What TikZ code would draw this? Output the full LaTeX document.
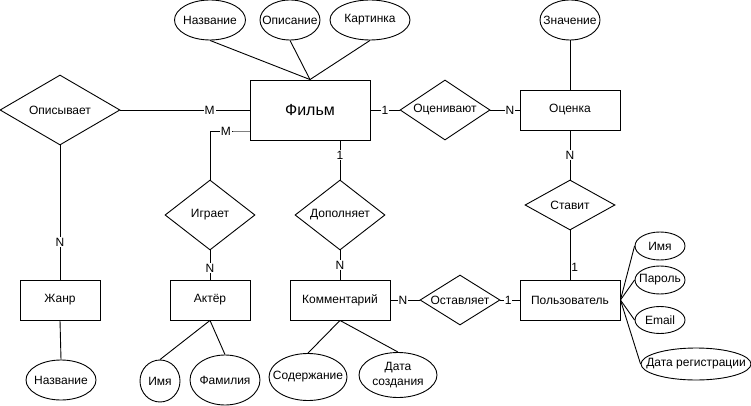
\documentclass[tikz,border=0pt]{standalone}
\usepackage{fontspec}
\setmainfont{Liberation Sans}
\usetikzlibrary{shapes.geometric}
\newcommand{\fs}{\fontsize{12}{14.4}\selectfont}
\newcommand{\zb}[1]{\makebox[0pt]{#1}}
\tikzset{
  ent/.style={draw, rectangle, inner sep=0pt, font=\fs, line width=0.9pt},
  attr/.style={draw, ellipse, inner sep=0pt, font=\fs, line width=0.9pt},
  rel/.style={draw, diamond, inner sep=0pt, font=\fs, line width=0.9pt},
  lbl/.style={fill=white, inner sep=1pt, font=\fs},
  conn/.style={line width=0.9pt},
}
\begin{document}
\begin{tikzpicture}[x=1pt,y=-1pt]
\useasboundingbox (0,0) rectangle (751,406);
% entities
\node[ent, minimum width=120pt, minimum height=60pt, font=\fontsize{16}{19}\selectfont] (film) at (310,110) {Фильм};
\node[ent, minimum width=100pt, minimum height=40pt] (ocen) at (570,110) {Оценка};
\node[ent, minimum width=80pt, minimum height=40pt] (zhanr) at (60,300) {Жанр};
\node[ent, minimum width=80pt, minimum height=40pt] (aktor) at (210,300) {Актёр};
\node[ent, minimum width=100pt, minimum height=40pt] (komm) at (340,300) {Комментарий};
\node[ent, minimum width=100pt, minimum height=40pt] (polz) at (570,300) {Пользователь};
% relations
\node[rel, minimum width=120pt, minimum height=70pt] (opis) at (60,110) {\zb{Описывает}};
\node[rel, minimum width=90pt, minimum height=60pt] (ocenv) at (445,110) {\zb{Оценивают}};
\node[rel, minimum width=90pt, minimum height=70pt] (igraet) at (210,215) {\zb{Играет}};
\node[rel, minimum width=90pt, minimum height=70pt] (dopoln) at (340,215) {\zb{Дополняет}};
\node[rel, minimum width=80pt, minimum height=50pt] (ostav) at (460,300) {\zb{Оставляет}};
\node[rel, minimum width=90pt, minimum height=50pt] (stavit) at (570,205) {\zb{Ставит}};
% attributes
\node[attr, minimum width=71pt, minimum height=40pt] (fnazv) at (210,20) {\zb{Название}};
\node[attr, minimum width=60pt, minimum height=40pt] (fopis) at (290,20) {\zb{Описание}};
\node[attr, minimum width=80pt, minimum height=40pt] (fkart) at (370,20) {\zb{Картинка}};
\node[attr, minimum width=60pt, minimum height=40pt] (znach) at (570,20) {\zb{Значение}};
\node[attr, minimum width=70pt, minimum height=40pt] (znazv) at (61,380) {\zb{Название}};
\node[attr, minimum width=40pt, minimum height=42pt] (aimya) at (160,381) {\zb{Имя}};
\node[attr, minimum width=70pt, minimum height=50pt] (afam) at (225,380) {\zb{Фамилия}};
\node[attr, minimum width=78pt, minimum height=47pt] (ksod) at (308,377) {\zb{Содержание}};
\node[attr, minimum width=78pt, minimum height=45pt] (kdata) at (398,375) {\zb{\begin{tabular}{@{}c@{}}Дата\\[1pt]создания\end{tabular}}};
\node[attr, minimum width=50pt, minimum height=28pt] (pimya) at (660,246) {\zb{Имя}};
\node[attr, minimum width=50pt, minimum height=28pt] (ppar) at (660,280) {\zb{Пароль}};
\node[attr, minimum width=50pt, minimum height=27pt] (pemail) at (660,320) {\zb{Email}};
\node[attr, minimum width=110pt, minimum height=32pt] (pdata) at (696,364) {\zb{Дата регистрации}};
% attribute connectors
\draw[conn] (fnazv.south) -- (film.north);
\draw[conn] (fopis.south) -- (film.north);
\draw[conn] (fkart.south) -- (film.north);
\draw[conn] (znach.south) -- (ocen.north);
\draw[conn] (zhanr.south) -- (znazv.north);
\draw[conn] (aktor.south) -- (aimya.north);
\draw[conn] (aktor.south) -- (afam.north);
\draw[conn] (komm.south) -- (ksod.north);
\draw[conn] (komm.south) -- (kdata.north);
\draw[conn] (polz.east) -- (pimya.west);
\draw[conn] (polz.east) -- (ppar.west);
\draw[conn] (polz.east) -- (pemail.west);
\draw[conn] (polz.east) -- (pdata.west);
% relation connectors
\draw[conn] (opis.east) -- node[lbl, pos=0.69]{M} (film.west);
\draw[conn] (opis.south) -- node[lbl, pos=0.72]{N} (zhanr.north);
\draw[conn] (igraet.north) |- node[lbl, pos=0.7]{M} ([yshift=-21pt]film.west);
\draw[conn, gray] ([xshift=-17pt,yshift=-21pt]film.west) -- ([yshift=-21pt]film.west);
\draw[conn] (igraet.south) -- node[lbl, pos=0.6]{N} (aktor.north);
\draw[conn] (dopoln.north) -- node[lbl, pos=0.625]{1} (dopoln.north |- film.south);
\draw[conn] (dopoln.south) -- node[lbl, pos=0.5]{N} (komm.north);
\draw[conn] (film.east) -- node[lbl, pos=0.5]{1} (ocenv.west);
\draw[conn] (ocenv.east) -- node[lbl, pos=0.67]{N} (ocen.west);
\draw[conn] (ocen.south) -- node[lbl, pos=0.5]{N} (stavit.north);
\draw[conn] (stavit.south) -- node[pos=0.76, anchor=west, inner sep=0.8pt, font=\fs]{1} (polz.north);
\draw[conn] (komm.east) -- node[lbl, pos=0.43]{N} (ostav.west);
\draw[conn] (ostav.east) -- node[lbl, pos=0.4]{1} (polz.west);
\end{tikzpicture}
\end{document}
